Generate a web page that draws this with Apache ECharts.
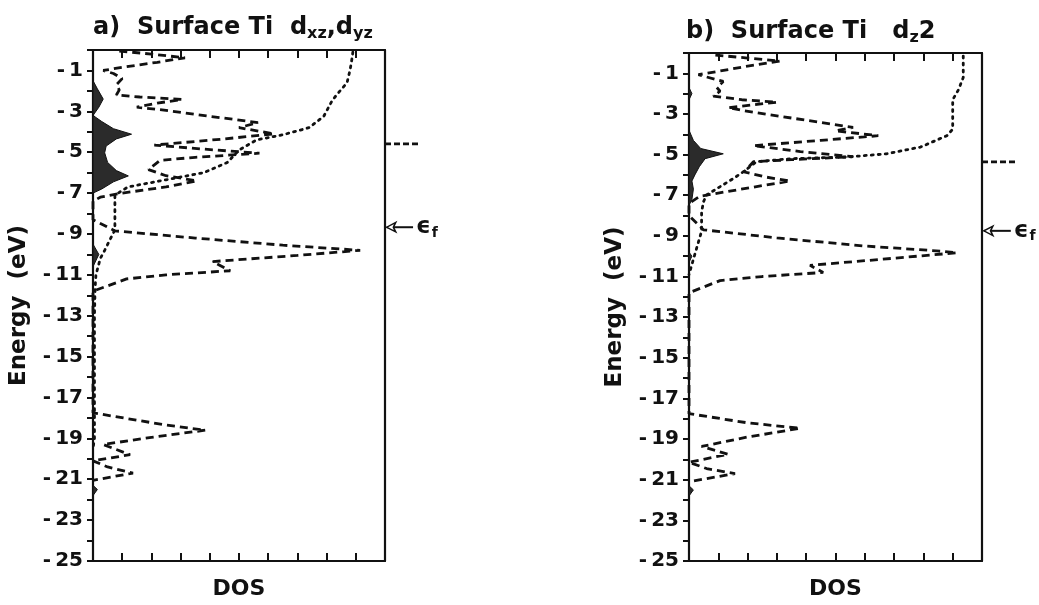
<!DOCTYPE html>
<html>
<head>
<meta charset="utf-8">
<script src="https://cdn.jsdelivr.net/npm/echarts@6/dist/echarts.min.js"></script>
<style>
  html, body { margin: 0; padding: 0; background: #fff; }
  #main { width: 1039px; height: 605px; }
</style>
</head>
<body>
<div id="main"></div>
<script>
// [DOS, energy (eV)]
const dashedA = [
  [0.9, -0.05], [2.0, -0.2], [3.15, -0.38], [2.2, -0.6], [1.0, -0.85], [0.35, -1.0],
  [0.7, -1.15], [1.0, -1.4], [0.8, -1.7], [0.9, -1.95], [0.8, -2.2], [1.6, -2.3],
  [3.05, -2.42], [2.2, -2.6], [1.5, -2.8], [2.5, -2.95], [3.5, -3.15], [5.65, -3.55],
  [5.0, -3.8], [6.2, -4.1], [4.5, -4.35], [2.1, -4.65], [3.8, -4.85], [5.7, -5.05],
  [3.5, -5.25], [2.3, -5.4], [1.9, -5.85], [2.5, -6.15], [3.55, -6.4], [2.5, -6.7],
  [1.0, -7.0], [0.25, -7.2], [0, -7.4], [0, -8.3], [0.75, -8.85], [3.5, -9.2],
  [6.5, -9.55], [9.15, -9.8], [7.0, -10.05], [4.1, -10.35], [4.7, -10.8], [2.5, -11.0],
  [1.15, -11.2], [0, -11.8], [0, -17.75], [2.5, -18.35], [3.85, -18.6], [2.0, -18.95],
  [0.35, -19.3], [1.27, -19.8], [0, -20.1], [0.5, -20.4], [1.37, -20.7], [0, -21.05]
];
const dottedA = [
  [8.9, -0.1], [8.85, -0.6], [8.8, -1.0], [8.7, -1.6], [8.4, -2.1], [8.2, -2.45],
  [7.9, -3.25], [7.4, -3.8], [6.5, -4.15], [5.6, -4.4], [5.0, -4.9], [4.6, -5.5],
  [3.8, -6.0], [2.5, -6.35], [1.2, -6.7], [0.75, -7.1], [0.75, -8.8], [0.4, -9.8],
  [0.25, -10.2], [0.1, -11.0], [0.07, -11.7], [0.05, -13], [0.05, -19], [0, -19.5]
];
const fillA = [
  [0, -1.5], [0.15, -1.9], [0.35, -2.4], [0.2, -2.8], [0, -3.2], [0.3, -3.5],
  [0.7, -3.85], [1.32, -4.12], [0.8, -4.35], [0.45, -4.7], [0.4, -5.03], [0.5, -5.5],
  [0.8, -5.9], [1.21, -6.16], [0.7, -6.45], [0.3, -6.8], [0, -7.0], [0, -9.5],
  [0.2, -10.0], [0, -10.6], [0, -21.3], [0.15, -21.5], [0, -21.8]
];

const dashedB = [
  [0.9, -0.1], [2.0, -0.25], [3.1, -0.4], [2.0, -0.65], [1.0, -0.9], [0.32, -1.07],
  [1.17, -1.4], [0.95, -1.7], [1.06, -1.88], [0.83, -2.12], [1.8, -2.3], [3.0, -2.42],
  [2.2, -2.55], [1.34, -2.69], [1.9, -2.85], [3.5, -3.2], [5.6, -3.66], [5.0, -3.83],
  [6.46, -4.07], [4.5, -4.3], [2.2, -4.56], [3.8, -4.85], [5.6, -5.1], [3.5, -5.25],
  [2.2, -5.35], [1.88, -5.85], [2.6, -6.1], [3.45, -6.3], [2.2, -6.6], [0.37, -7.05],
  [0, -7.4], [0, -8.0], [0.49, -8.7], [3.0, -9.1], [6.0, -9.5], [8.6, -9.75],
  [9.14, -9.83], [7.0, -10.1], [4.13, -10.45], [4.58, -10.8], [2.5, -11.0], [1.06, -11.2],
  [0, -11.8], [0, -17.75], [2.0, -18.2], [3.79, -18.47], [2.0, -18.9], [0.43, -19.36],
  [1.34, -19.75], [0, -20.14], [0.6, -20.45], [1.57, -20.7], [0, -21.1]
];
const dottedB = [
  [9.36, -0.15], [9.36, -1.2], [9.2, -1.8], [9.0, -2.3], [9.0, -3.75], [8.8, -4.07],
  [7.9, -4.63], [6.75, -4.96], [5.4, -5.12], [3.5, -5.2], [2.3, -5.35], [1.9, -5.8],
  [1.51, -6.18], [0.6, -6.99], [0.5, -7.3], [0.43, -7.8], [0.43, -8.77], [0.14, -10.2],
  [0, -10.9]
];
const fillB = [
  [0, -1.7], [0.1, -2.0], [0, -2.3], [0, -3.8], [0.15, -4.3], [0.4, -4.7],
  [1.17, -4.96], [0.55, -5.2], [0.35, -5.6], [0.2, -6.0], [0.1, -6.3], [0.15, -6.7],
  [0.1, -7.2], [0, -7.5], [0, -9.8], [0.1, -10.0], [0, -10.3], [0, -21.3],
  [0.15, -21.5], [0, -21.8]
];

// markers right of each frame (own small grid, x 0..1): dashed level and Fermi energy
const levelA = [[0, -4.57], [1, -4.57]];
const levelB = [[0, -5.3], [1, -5.3]];
const fermiA = [[0.05, -8.62], [0.85, -8.62]];
const fermiB = [[0.05, -8.65], [0.8, -8.65]];

const titles = [
  '{t|a)  Surface Ti  d}{s|xz}{t|,d}{s|yz}',
  '{t|b)  Surface Ti   d}{s|z}{t|2}'
];

const FONT = 'DejaVu Sans';
const ink = '#111';

function xAxes(gi) {
  const base = {
    type: 'value', gridIndex: gi, min: 0, max: 10, interval: 1,
    axisLine: { show: true, onZero: false, lineStyle: { color: ink, width: 2.2 } },
    axisTick: { show: true, inside: true, length: 8, lineStyle: { color: ink, width: 2 } },
    axisLabel: { show: false },
    splitLine: { show: false }
  };
  return [
    Object.assign({}, base, {
      position: 'bottom', name: 'DOS', nameLocation: 'middle', nameGap: 17,
      nameTextStyle: { fontFamily: FONT, fontWeight: 'bold', fontSize: 22, color: ink }
    }),
    Object.assign({}, base, { position: 'top' })
  ];
}

function yAxes(gi) {
  return [
    {
      type: 'value', gridIndex: gi, min: -25, max: 0, interval: 1, position: 'left',
      axisLine: { show: true, onZero: false, lineStyle: { color: ink, width: 2.2 } },
      axisTick: { show: true, inside: false, length: 6, lineStyle: { color: ink, width: 2 } },
      axisLabel: {
        margin: 10, fontFamily: FONT, fontWeight: 'bold', fontSize: 20, color: ink,
        formatter: v => (v % 2 !== 0 ? '-\u2009' + Math.abs(v) : '')
      },
      splitLine: { show: false },
      name: 'Energy  (eV)', nameLocation: 'middle', nameGap: 62, nameRotate: 90,
      nameTextStyle: { fontFamily: FONT, fontWeight: 'bold', fontSize: 23, color: ink }
    },
    {
      type: 'value', gridIndex: gi, min: -25, max: 0, position: 'right',
      axisLine: { show: true, onZero: false, lineStyle: { color: ink, width: 2.2 } },
      axisTick: { show: false }, axisLabel: { show: false }, splitLine: { show: false }
    }
  ];
}

function hiddenAxis(gi, min, max) {
  return { type: 'value', gridIndex: gi, min: min, max: max, show: false };
}

function panelSeries(gi, dashed, dotted, fill) {
  const ax = { xAxisIndex: gi * 2, yAxisIndex: gi * 2 };
  return [
    Object.assign({
      type: 'custom', data: fill, silent: true, z: 2,
      encode: { x: 0, y: 1 },
      renderItem: (params, api) => {
        if (params.dataIndex !== 0) return null;
        return {
          type: 'polygon',
          shape: { points: fill.map(p => api.coord(p)) },
          style: { fill: '#2b2b2b', stroke: '#111', lineWidth: 1 }
        };
      }
    }, ax),
    Object.assign({
      type: 'line', data: dashed, symbol: 'none', z: 3,
      lineStyle: { color: ink, width: 2.8, type: [8, 5] }
    }, ax),
    Object.assign({
      type: 'line', data: dotted, symbol: 'none', z: 3,
      lineStyle: { color: ink, width: 2.8, type: [2, 5], cap: 'round' }
    }, ax)
  ];
}

function markerSeries(idx, level, fermi) {
  const ax = { xAxisIndex: idx, yAxisIndex: idx };
  return [
    Object.assign({
      type: 'line', data: level, symbol: 'none', z: 3,
      lineStyle: { color: ink, width: 2.8, type: [6, 3] }
    }, ax),
    Object.assign({
      type: 'line', data: fermi, z: 3,
      symbol: (v, p) => (p.dataIndex === 0 ? 'arrow' : 'none'),
      symbolSize: [7, 9], symbolRotate: 90,
      itemStyle: { color: '#fff', borderColor: ink, borderWidth: 1.5 },
      lineStyle: { color: ink, width: 2 },
      endLabel: {
        show: true, distance: 3,
        formatter: '{e|ϵ}{f|f}',
        rich: {
          e: { fontFamily: FONT, fontWeight: 'bold', fontSize: 23, color: ink },
          f: { fontFamily: FONT, fontWeight: 'bold', fontSize: 14, color: ink, verticalAlign: 'bottom', padding: [12, 0, 0, 1] }
        }
      }
    }, ax)
  ];
}

const chart = echarts.init(document.getElementById('main'), null, { renderer: 'canvas' });
const richTitle = {
  t: { fontFamily: FONT, fontWeight: 'bold', fontSize: 24, color: ink },
  s: { fontFamily: FONT, fontWeight: 'bold', fontSize: 16, color: ink, verticalAlign: 'bottom', padding: [13, 0, 0, 0] }
};
chart.setOption({
  backgroundColor: '#fff',
  animation: false,
  title: [
    { text: titles[0], left: 88, top: 8, textStyle: { rich: richTitle } },
    { text: titles[1], left: 681, top: 12, textStyle: { rich: richTitle } }
  ],
  grid: [
    { left: 93, top: 50, width: 292, height: 514 },
    { left: 689, top: 53, width: 293, height: 514 },
    { left: 385, top: 50, width: 33, height: 514 },
    { left: 982, top: 53, width: 36, height: 514 }
  ],
  xAxis: xAxes(0).concat(xAxes(1), [hiddenAxis(2, 0, 1), hiddenAxis(3, 0, 1)]),
  yAxis: yAxes(0).concat(yAxes(1), [hiddenAxis(2, -25, 0), hiddenAxis(3, -25, 0)]),
  series: panelSeries(0, dashedA, dottedA, fillA)
    .concat(panelSeries(1, dashedB, dottedB, fillB),
      markerSeries(4, levelA, fermiA), markerSeries(5, levelB, fermiB))
});
</script>
</body>
</html>
